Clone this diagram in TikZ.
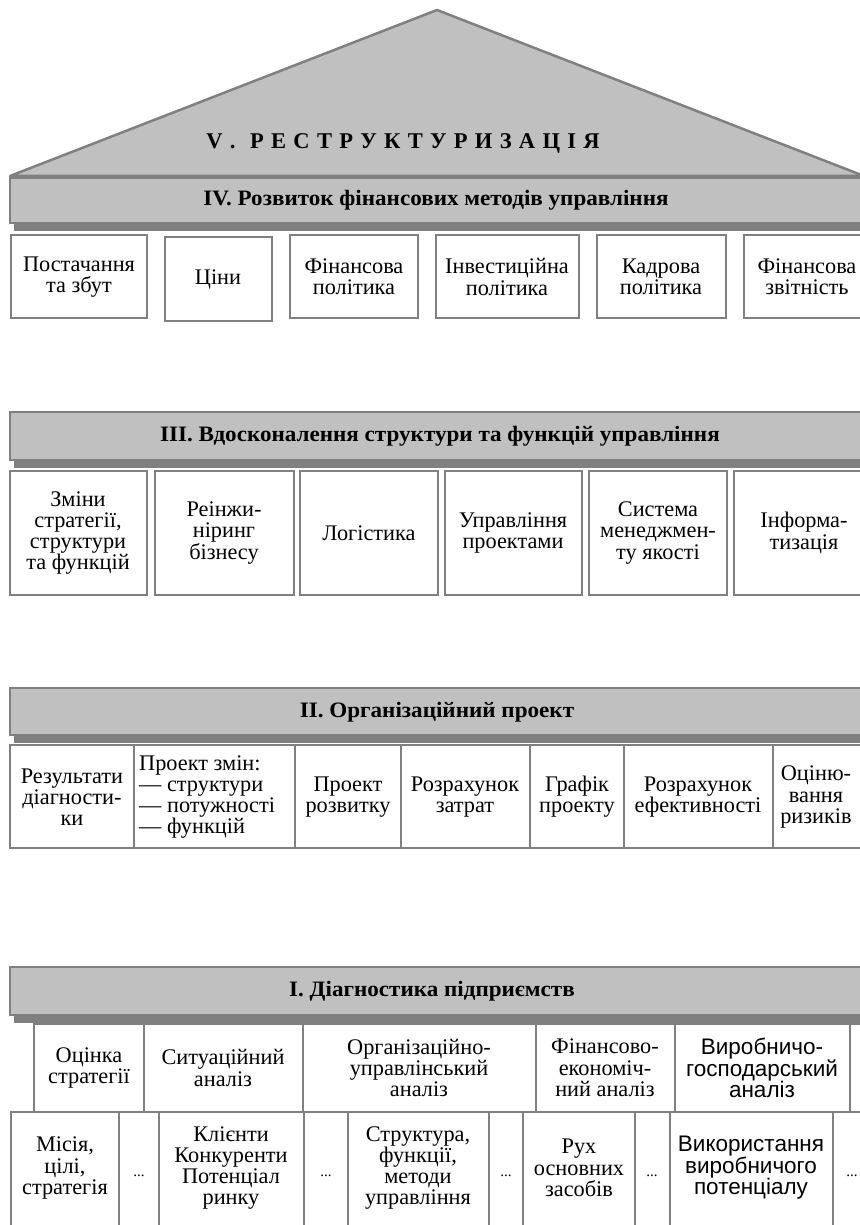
\documentclass[tikz,border=0pt]{standalone}
\usepackage{fontspec}
\setmainfont{Liberation Serif}
\newfontfamily\widebf{Liberation Serif}[FakeStretch=1.05]
\newfontfamily\sansfam{Liberation Sans}
\definecolor{roofgray}{HTML}{C0C0C0}
\definecolor{edgegray}{HTML}{808080}
\def\tk{\kern7.3pt}
\begin{document}
\begin{tikzpicture}[x=1pt,y=-1pt,
  band/.style={fill=roofgray,draw=edgegray,line width=2.5pt},
  shade/.style={fill=edgegray},
  cell/.style={fill=white,draw=edgegray,line width=2.5pt},
  lbl/.style={align=center,inner sep=0pt,font=\fontsize{22.3}{21.3}\selectfont},
  sanslbl/.style={align=center,inner sep=0pt,font=\sansfam\fontsize{22.5}{21.5}\selectfont},
  head/.style={align=center,inner sep=0pt,font=\widebf\bfseries\fontsize{22}{22}\selectfont},
  dots/.style={inner sep=0pt,font=\fontsize{15}{16}\selectfont}]
\useasboundingbox (0,0) rectangle (859,1225);

% ---- roof: V
\draw[band,line join=round] (10,176) -- (437,10) -- (864,176) -- cycle;
\node[inner sep=0pt,font=\bfseries\fontsize{22.5}{22}\selectfont] (tV) at (403,143)
  {V\tk.\tk\tk Р\tk Е\tk С\tk Т\tk Р\tk У\tk К\tk Т\tk У\tk Р\tk И\tk З\tk А\tk Ц\tk І\tk Я};

% ---- level IV
\fill[shade] (14,186) rectangle (890,231);
\draw[band] (10,178) rectangle (890,223);
\node[head] (hIV) at (436,200) {IV. Розвиток фінансових методів управління};
\foreach \a/\b in {11/147,290/418,436/579,597/726,744/890}
  \draw[cell] (\a,235) rectangle (\b,318);
\draw[cell] (165,237) rectangle (272,321);
\node[lbl] (c41) at (79,277)  {Постачання\\та збут};
\node[lbl] (c42) at (218,279) {Ціни};
\node[lbl] (c43) at (354,277) {Фінансова\\політика};
\node[lbl] (c44) at (507,277) {Інвестиційна\\політика};
\node[lbl] (c45) at (661,277) {Кадрова\\політика};
\node[lbl] (c46) at (807,277) {Фінансова\\звітність};

% ---- level III
\fill[shade] (14,420) rectangle (890,468);
\draw[band] (10,412) rectangle (890,460);
\node[head] (hIII) at (440,436) {III. Вдосконалення структури та функцій управління};
\foreach \a/\b in {10/147,155/294,300/438,445/582,589/727,734/890}
  \draw[cell] (\a,471) rectangle (\b,595);
\node[lbl] (c31) at (78,533)  {Зміни\\стратегії,\\структури\\та функцій};
\node[lbl] (c32) at (224,533) {Реінжи-\\ніринг\\бізнесу};
\node[lbl] (c33) at (369,533) {Логістика};
\node[lbl] (c34) at (513,533) {Управління\\проектами};
\node[lbl] (c35) at (658,533) {Система\\менеджмен-\\ту якості};
\node[lbl] (c36) at (804,533) {Інформа-\\тизація};

% ---- level II
\fill[shade] (14,696) rectangle (890,743);
\draw[band] (10,688) rectangle (890,735);
\node[head] (hII) at (437,712) {II. Організаційний проект};
\foreach \a/\b in {10/134,134/295,295/401,401/530,530/624,624/773,773/890}
  \draw[cell] (\a,745) rectangle (\b,848);
\node[lbl] (c21) at (72,797)  {Результати\\діагности-\\ки};
\node[lbl,align=left,anchor=west] (c22) at (139,797)
  {Проект змін:\\— структури\\— потужності\\— функцій};
\node[lbl] (c23) at (348,797) {Проект\\розвитку};
\node[lbl] (c24) at (465,797) {Розрахунок\\затрат};
\node[lbl] (c25) at (577,797) {Графік\\проекту};
\node[lbl] (c26) at (698,797) {Розрахунок\\ефективності};
\node[lbl] (c27) at (816,797) {Оціню-\\вання\\ризиків};

% ---- level I
\fill[shade] (14,975) rectangle (890,1023);
\draw[band] (10,967) rectangle (890,1015);
\node[head] (hI) at (432,991) {I. Діагностика підприємств};
\foreach \a/\b in {34/144,144/303,303/536,536/675,675/850,850/900}
  \draw[cell] (\a,1024) rectangle (\b,1112);
\node[lbl] (d1) at (89,1068)  {Оцінка\\стратегії};
\node[lbl] (d2) at (223,1068) {Ситуаційний\\аналіз};
\node[lbl] (d3) at (419,1068) {Організаційно-\\управлінський\\аналіз};
\node[lbl] (d4) at (605,1068) {Фінансово-\\економіч-\\ний аналіз};
\node[sanslbl] (d5) at (762,1068) {Виробничо-\\господарський\\аналіз};
\foreach \a/\b in {11/119,119/159,159/304,304/348,348/489,489/523,523/635,635/670,670/833,833/890}
  \draw[cell] (\a,1112) rectangle (\b,1230);
\node[lbl] (e1) at (65,1168)  {Місія,\\цілі,\\стратегія};
\node[dots] (e2) at (139,1176) {...};
\node[lbl] (e3) at (231,1168) {Клієнти\\Конкуренти\\Потенціал\\ринку};
\node[dots] (e4) at (326,1176) {...};
\node[lbl] (e5) at (418,1168) {Структура,\\функції,\\методи\\управління};
\node[dots] (e6) at (506,1176) {...};
\node[lbl] (e7) at (579,1168) {Рух\\основних\\засобів};
\node[dots] (e8) at (652,1176) {...};
\node[sanslbl] (e9) at (751,1168) {Використання\\виробничого\\потенціалу};
\node[dots] (e10) at (852,1176) {...};
\end{tikzpicture}
\end{document}
